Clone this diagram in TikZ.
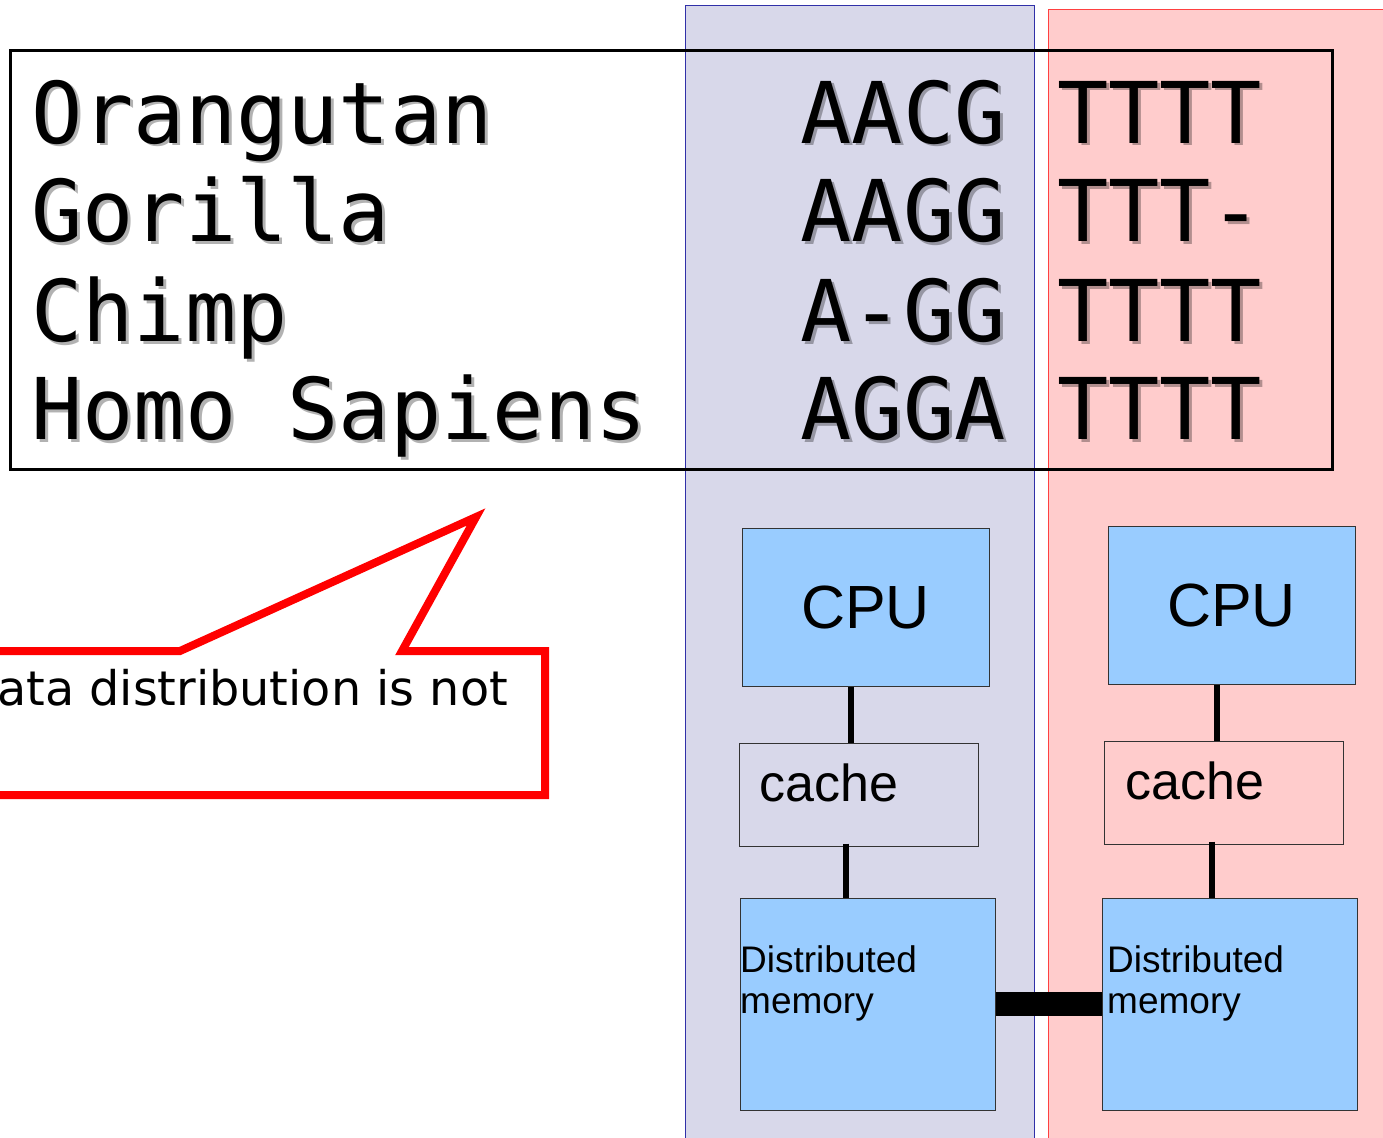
\documentclass[tikz,border=0pt]{standalone}
\usepackage{fontspec}
\setmainfont{Liberation Sans}
\newfontfamily\monofont{DejaVu Sans Mono}
\newfontfamily\calloutfont{DejaVu Sans}
\definecolor{colA}{HTML}{D8D8EA}
\definecolor{colAline}{HTML}{3030A8}
\definecolor{colB}{HTML}{FFCCCC}
\definecolor{colBline}{HTML}{FF4040}
\definecolor{unit}{HTML}{99CCFF}
\tikzset{
  seqtext/.style={anchor=base west, inner sep=0pt, font=\monofont\fontsize{85.2}{99}\selectfont},
  seqshadow/.style={seqtext, text=black, text opacity=0.3},
  unitbox/.style={draw=black!80, line width=1pt, fill=unit, inner sep=0pt},
  cachebox/.style={draw=black!80, line width=1pt, inner sep=0pt, minimum width=239pt, minimum height=103pt},
  conn/.style={line width=6pt},
  boxlabel/.style={anchor=base west, inner sep=0pt},
}
\begin{document}
\begin{tikzpicture}[x=1pt,y=-1pt]
\useasboundingbox (0,0) rectangle (1383,1137);
\clip (0,0) rectangle (1383,1137);

% the two processor columns
\path[draw=colAline, fill=colA, line width=1pt] (685,6) rectangle (1034,1145);
\path[draw=colBline, fill=colB, line width=1pt] (1048,10) rectangle (1395,1145);

% alignment frame
\draw[line width=3pt] (10,51) rectangle (1332,469);

% sequence alignment with drop shadow
\foreach \row/\base/\txt in {
  1/143/{Orangutan\ \ \ \ \ \ AACG\ TTTT},
  2/241/{Gorilla\ \ \ \ \ \ \ \ AAGG\ TTT-},
  3/341/{Chimp\ \ \ \ \ \ \ \ \ \ A-GG\ TTTT},
  4/439/{Homo\ Sapiens\ \ \ AGGA\ TTTT}} {
  \node[seqshadow] (shadow\row) at (34,\base+3) {\txt};
  \node[seqtext] (row\row) at (31,\base) {\txt};
}

% callout
\draw[red, line width=8pt, line join=miter, miter limit=20]
  (-20,651) -- (180,651) -- (476,517) -- (402,651) -- (545,651) -- (545,795) -- (-20,795);
\node[anchor=base west, inner sep=0pt, font=\calloutfont\fontsize{47.7}{56}\selectfont] (note) at (-3,705) {ata distribution is not};

% processor units
\node[unitbox, minimum width=247pt, minimum height=158pt, font=\fontsize{61}{70}\selectfont] (cpuA) at (865.5,607) {CPU};
\node[unitbox, minimum width=247pt, minimum height=158pt, font=\fontsize{61}{70}\selectfont] (cpuB) at (1231.5,605) {CPU};

\node[cachebox, fill=colA] (cacheA) at (858.5,794.5) {};
\node[cachebox, fill=colB] (cacheB) at (1223.5,792.5) {};
\node[boxlabel, font=\fontsize{52}{60}\selectfont] (cacheAlabel) at (759,801) {cache};
\node[boxlabel, font=\fontsize{52}{60}\selectfont] (cacheBlabel) at (1125,799) {cache};

\node[unitbox, minimum width=255pt, minimum height=212pt] (memA) at (867.5,1004) {};
\node[unitbox, minimum width=255pt, minimum height=212pt] (memB) at (1229.5,1004) {};
\node[anchor=north west, inner sep=0pt, align=left, font=\fontsize{37}{41}\selectfont] (memAlabel) at (740,945) {Distributed\\memory};
\node[anchor=north west, inner sep=0pt, align=left, font=\fontsize{37}{41}\selectfont] (memBlabel) at (1107,945) {Distributed\\memory};

% connections
\coordinate (xa1) at (851,0);
\coordinate (xa2) at (846,0);
\coordinate (xb1) at (1217,0);
\coordinate (xb2) at (1212,0);
\draw[conn] (cpuA.south -| xa1) -- (cacheA.north -| xa1);
\draw[conn] ([yshift=3pt]cacheA.south -| xa2) -- (memA.north -| xa2);
\draw[conn] (cpuB.south -| xb1) -- (cacheB.north -| xb1);
\draw[conn] ([yshift=3pt]cacheB.south -| xb2) -- (memB.north -| xb2);
\draw[line width=24pt] (memA.east) -- (memB.west);
\end{tikzpicture}
\end{document}
